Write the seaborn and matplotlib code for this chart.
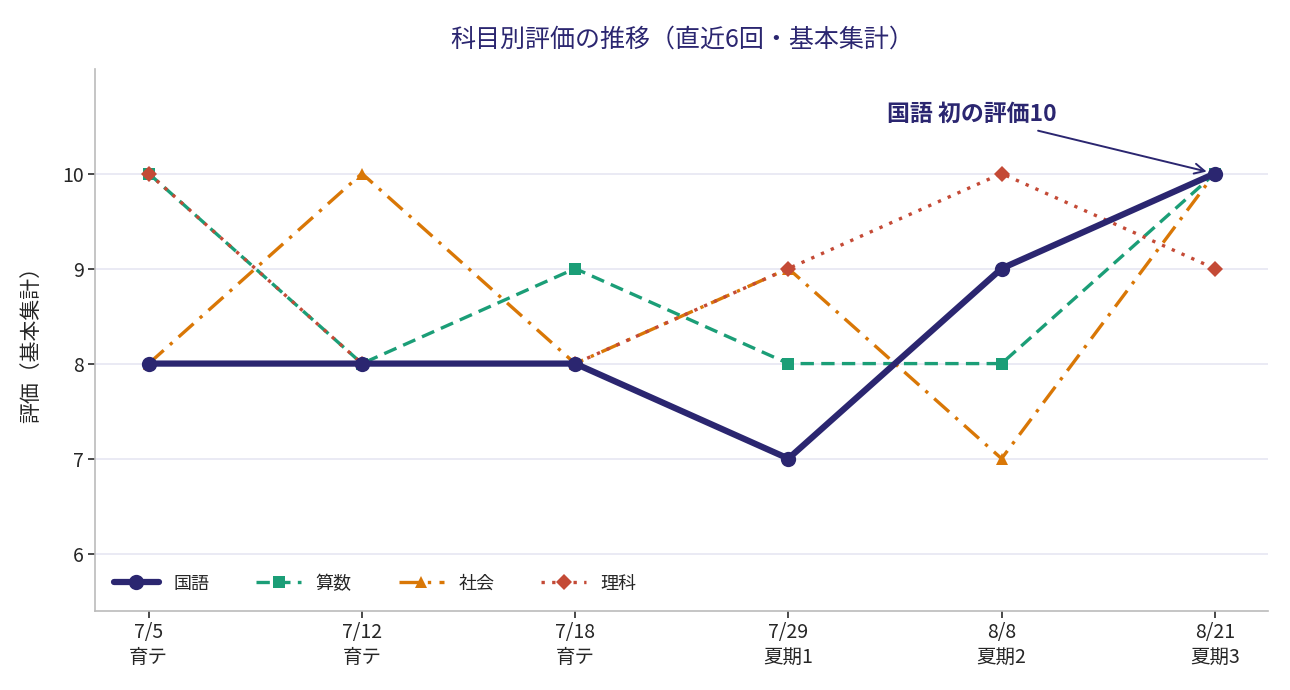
import matplotlib
matplotlib.use("Agg")
import matplotlib.pyplot as plt
import seaborn as sns
import pandas as pd

dates = ["7/5", "7/12", "7/18", "7/29", "8/8", "8/21"]
tests = ["育テ", "育テ", "育テ", "夏期1", "夏期2", "夏期3"]
kokugo = [8, 8, 8, 7, 9, 10]
sansu = [10, 8, 9, 8, 8, 10]
shakai = [8, 10, 8, 9, 7, 10]
rika = [10, 8, 8, 9, 10, 9]

series = {"国語": kokugo, "算数": sansu, "社会": shakai, "理科": rika}

sns.set_theme(style="white")
plt.rcParams['font.family'] = ['Noto Sans CJK JP', 'DejaVu Sans']

rows = []
for name, vals in series.items():
    for i, v in enumerate(vals):
        rows.append({"科目": name, "回": i, "評価": v})
df = pd.DataFrame(rows)

styles = {
    "国語": dict(color="#2b2670", lw=4.5, marker="o", ms=11, dashes=None, z=5),
    "算数": dict(color="#1b9e77", lw=2.4, marker="s", ms=8, dashes=(4, 2.2), z=3),
    "社会": dict(color="#d97706", lw=2.4, marker="^", ms=9, dashes=(6, 2.5, 1, 2.5), z=2),
    "理科": dict(color="#c44a36", lw=2.4, marker="D", ms=8, dashes=(1, 2.2), z=4),
}

fig, ax = plt.subplots(figsize=(12.9, 6.9), dpi=100)
fig.subplots_adjust(left=0.074, right=0.983, top=0.9, bottom=0.115)

for name in series:
    st = styles[name]
    sub = df[df["科目"] == name]
    sns.lineplot(data=sub, x="回", y="評価", ax=ax, color=st["color"], lw=st["lw"],
                 marker=st["marker"], markersize=st["ms"], markeredgewidth=0,
                 label=name, zorder=st["z"])
    line = ax.lines[-1]
    if st["dashes"] is not None:
        line.set_dashes(st["dashes"])

ax.set_xlim(-0.25, 5.25)
ax.set_ylim(5.4, 11.1)
ax.set_yticks([6, 7, 8, 9, 10])
ax.set_xticks(range(len(dates)))
ax.set_xticklabels([f"{d}\n{t}" for d, t in zip(dates, tests)], fontsize=14, linespacing=1.2)
ax.tick_params(axis="y", labelsize=14)
ax.tick_params(axis="both", which="major", length=5, color="#333333", bottom=True, left=True)
ax.set_xlabel("")
ax.set_ylabel("評価（基本集計）", fontsize=15, labelpad=14)
ax.yaxis.grid(True, color="#e6e6f2", lw=1.2)
ax.set_axisbelow(True)
for s in ["top", "right"]:
    ax.spines[s].set_visible(False)
for s in ["left", "bottom"]:
    ax.spines[s].set_color("#bbbbbb")
    ax.spines[s].set_linewidth(1.2)

ax.set_title("科目別評価の推移（直近6回・基本集計）", fontsize=18, color="#2b2670", pad=16)

ax.annotate("国語 初の評価10", xy=(5, 10), xytext=(3.86, 10.62),
            fontsize=16.5, fontweight="bold", color="#2b2670", ha="center", va="center",
            arrowprops=dict(arrowstyle="->", color="#2b2670", lw=1.4,
                            shrinkA=4, shrinkB=6, mutation_scale=18))

leg = ax.legend(loc="lower left", ncol=4, frameon=False, fontsize=13,
                handlelength=2.5, handletextpad=0.8, columnspacing=2.6, borderaxespad=0.6)

fig.savefig("out.png", dpi=100)
